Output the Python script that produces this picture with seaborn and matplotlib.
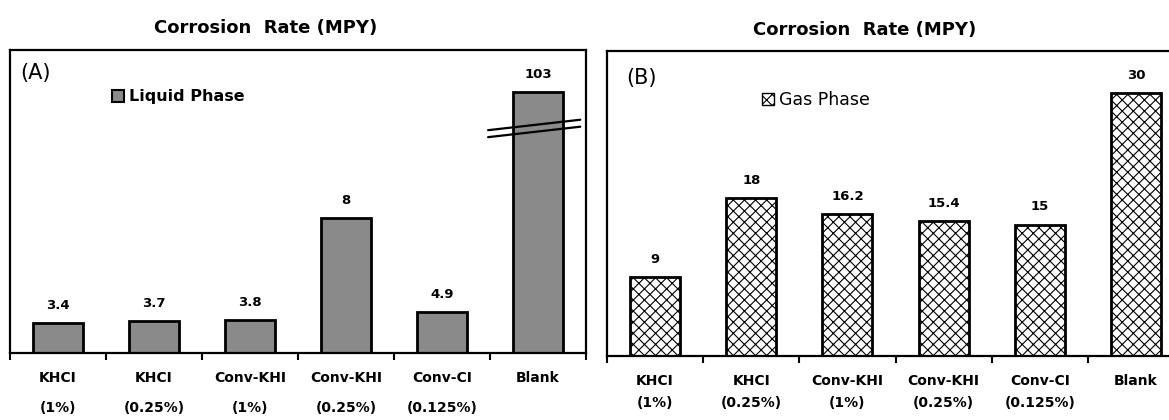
import matplotlib
matplotlib.use("Agg")
import matplotlib.pyplot as plt
import seaborn as sns
import numpy as np
from matplotlib.patches import Patch

# ---- data ----
categories = ["KHCI\n(1%)", "KHCI\n(0.25%)", "Conv-KHI\n(1%)",
              "Conv-KHI\n(0.25%)", "Conv-CI\n(0.125%)", "Blank"]
# bar heights as drawn in panel A (broken scale for Blank)
liquid_heights = [3.4, 3.7, 3.8, 15.5, 4.75, 30]
liquid_labels = ["3.4", "3.7", "3.8", "8", "4.9", "103"]
gas_values = [9, 18, 16.2, 15.4, 15, 30]
gas_labels = ["9", "18", "16.2", "15.4", "15", "30"]
title_text = "Corrosion  Rate (MPY)"

sns.set_theme(style="white")
plt.rcParams["font.family"] = ["DejaVu Sans"]
plt.rcParams["hatch.linewidth"] = 0.8
plt.rcParams["text.color"] = "black"
plt.rcParams["xtick.color"] = "black"
plt.rcParams["xtick.labelcolor"] = "black"

W, H = 1169, 420
fig = plt.figure(figsize=(W / 100, H / 100), dpi=100)

axA = fig.add_axes([10 / W, (H - 353) / H, 576 / W, 303 / H])
axB = fig.add_axes([607 / W, (H - 356) / H, 577 / W, 305 / H])

sns.barplot(x=categories, y=liquid_heights, ax=axA, color="#8a8a8a",
            saturation=1, width=0.52, edgecolor="black", linewidth=2)
sns.barplot(x=categories, y=gas_values, ax=axB, color="white",
            saturation=1, width=0.52, edgecolor="black", linewidth=2)
for p in axB.patches:
    p.set_hatch("xxx")

for ax, labels, ls in ((axA, liquid_labels, 2.45), (axB, gas_labels, 1.75)):
    ax.set_ylim(0, 34.8)
    ax.set_xlim(-0.5, 5.5)
    ax.set_yticks([])
    ax.set_ylabel("")
    ax.set_xlabel("")
    ax.set_xticks(range(len(categories)))
    ax.set_xticklabels(categories, fontsize=10, fontweight="bold",
                       linespacing=ls, color="black")
    ax.set_xticks(np.arange(-0.5, 6.0, 1.0), minor=True)
    ax.tick_params(axis="x", which="major", length=0, pad=13)
    ax.tick_params(axis="x", which="minor", length=5, width=1.5,
                   direction="out", color="black", bottom=True)
    for s in ax.spines.values():
        s.set_visible(True)
        s.set_color("black")
        s.set_linewidth(1.6)
    ax.bar_label(ax.containers[0], labels=labels, padding=8,
                 fontsize=9.5, fontweight="bold", color="black")

# break marks on Blank bar in panel A
bx = 5
bh = liquid_heights[bx]
for off in (0.0, -0.8):
    axA.plot([bx - 0.52, bx + 0.44], [bh * 0.853 + off, bh * 0.893 + off],
             color="black", lw=1.6, clip_on=False, zorder=5)

# panel tags
axA.text(0.017, 0.925, "(A)", transform=axA.transAxes, fontsize=15,
         ha="left", va="center", color="black")
axB.text(0.034, 0.91, "(B)", transform=axB.transAxes, fontsize=15,
         ha="left", va="center", color="black")

# legends
hA = [Patch(facecolor="#8a8a8a", edgecolor="black", linewidth=1.5,
            label="Liquid Phase")]
hB = [Patch(facecolor="white", edgecolor="black", linewidth=1.0,
            hatch="xxx", label="Gas Phase")]
legA = axA.legend(handles=hA, loc="center left",
                  bbox_to_anchor=(0.177, 0.845), frameon=False,
                  prop={"size": 11.5, "weight": "bold"}, handlelength=0.75,
                  handleheight=0.75, handletextpad=0.3, borderpad=0,
                  borderaxespad=0)
legB = axB.legend(handles=hB, loc="center left",
                  bbox_to_anchor=(0.268, 0.838), frameon=False,
                  prop={"size": 12.5}, handlelength=0.7,
                  handleheight=0.7, handletextpad=0.3, borderpad=0,
                  borderaxespad=0)
for leg in (legA, legB):
    for t in leg.get_texts():
        t.set_color("black")

# titles
fig.text(266 / W, 1 - 28 / H, title_text, fontsize=13, fontweight="bold",
         ha="center", va="center", color="black")
fig.text(865 / W, 1 - 30 / H, title_text, fontsize=13, fontweight="bold",
         ha="center", va="center", color="black")

fig.savefig("out.png", dpi=100)
